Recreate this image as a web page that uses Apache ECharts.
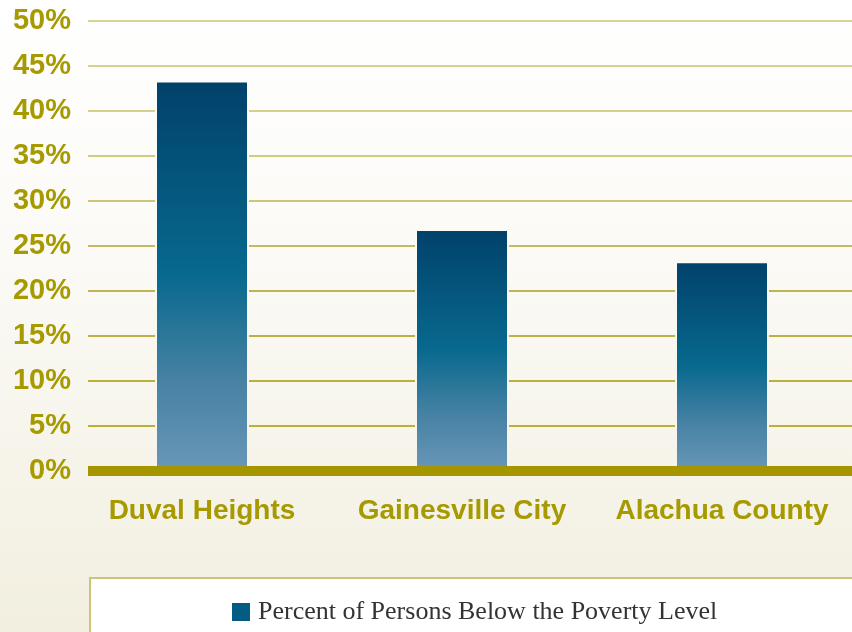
<!DOCTYPE html>
<html>
<head>
<meta charset="utf-8">
<script src="https://cdn.jsdelivr.net/npm/echarts@6/dist/echarts.min.js"></script>
<style>
html,body{margin:0;padding:0;}
#main{width:852px;height:632px;}
</style>
</head>
<body>
<div id="main"></div>
<script>
var categories = ['Duval Heights', 'Gainesville City', 'Alachua County'];
var povertyPct = [43.4, 26.9, 23.3];
var seriesName = 'Percent of Persons Below the Poverty Level';

var olive = '#a69a00';
var chart = echarts.init(document.getElementById('main'));

var option = {
    animation: false,
    backgroundColor: new echarts.graphic.LinearGradient(0, 0, 0, 1, [
        {offset: 0, color: '#ffffff'},
        {offset: 0.4, color: '#fbfaf6'},
        {offset: 1, color: '#f2efe0'}
    ]),
    legend: {
        left: 90,
        top: 578,
        data: [{name: seriesName, itemStyle: {color: '#045b84', borderWidth: 0}}],
        icon: 'rect',
        itemWidth: 18,
        itemHeight: 18,
        padding: [21, 200, 40, 142],
        backgroundColor: '#ffffff',
        borderColor: '#cdc47c',
        borderWidth: 2,
        textStyle: {
            fontFamily: 'Liberation Serif',
            fontSize: 26,
            color: '#333333',
            padding: [0, 0, 0, 3]
        }
    },
    grid: [
        {left: 72, right: -5, top: 21, bottom: 161},
        {left: 88, right: 0, top: 21, bottom: 161}
    ],
    xAxis: [
        {
            type: 'category',
            gridIndex: 0,
            data: categories,
            axisLine: {show: false},
            axisTick: {show: false},
            axisLabel: {
                interval: 0,
                margin: 40,
                verticalAlign: 'middle',
                color: olive,
                fontFamily: 'Liberation Sans',
                fontWeight: 'bold',
                fontSize: 28
            }
        },
        {
            type: 'category',
            gridIndex: 1,
            data: categories,
            z: 5,
            axisLine: {lineStyle: {color: '#a59600', width: 10, cap: 'butt'}},
            axisTick: {show: false},
            axisLabel: {show: false}
        }
    ],
    yAxis: [
        {type: 'value', gridIndex: 0, min: 0, max: 50, show: false},
        {
            type: 'value',
            gridIndex: 1,
            min: 0,
            max: 50,
            interval: 5,
            axisLine: {show: false},
            axisTick: {show: false},
            axisLabel: {
                formatter: '{value}%',
                margin: 17,
                color: olive,
                fontFamily: 'Liberation Sans',
                fontWeight: 'bold',
                fontSize: 29
            },
            splitLine: {
                lineStyle: {
                    width: 1.5,
                    color: ['#a89800', '#a89800', '#a89800', '#a99a0a', '#ad9e1a', '#b3a52c',
                            '#bfb34a', '#c4ba5a', '#c8bf68', '#cbc371', '#cdc578']
                }
            }
        }
    ],
    series: [
        {
            name: seriesName,
            type: 'bar',
            xAxisIndex: 0,
            yAxisIndex: 0,
            barWidth: 94,
            data: povertyPct,
            itemStyle: {
                color: new echarts.graphic.LinearGradient(0, 0, 0, 1, [
                    {offset: 0, color: '#01416a'},
                    {offset: 0.5, color: '#08698e'},
                    {offset: 0.76, color: '#4581a3'},
                    {offset: 1, color: '#6997b8'}
                ]),
                borderColor: new echarts.graphic.LinearGradient(0, 0, 0, 632, [
                    {offset: 0, color: '#ffffff'},
                    {offset: 0.4, color: '#fbfaf6'},
                    {offset: 1, color: '#f2efe0'}
                ], true),
                borderWidth: 2
            }
        }
    ]
};
chart.setOption(option);
</script>
</body>
</html>
